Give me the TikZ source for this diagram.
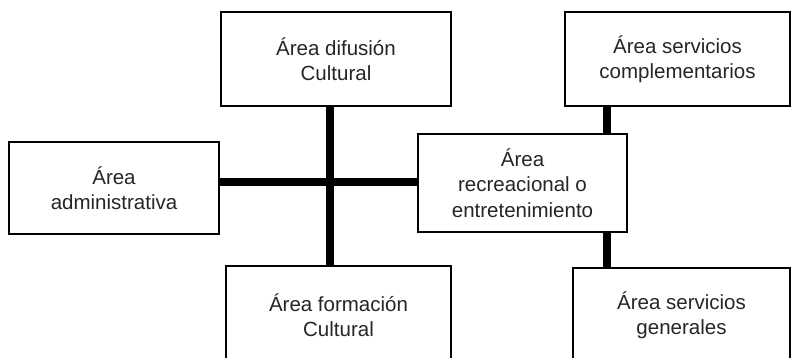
\documentclass[tikz,border=0pt]{standalone}
\usepackage{fontspec}
\setmainfont{Liberation Sans}
\usepackage{tikz}

\begin{document}
\begin{tikzpicture}[x=1pt,y=-1pt,
		area/.style={draw,line width=2.2pt,fill=white,align=center,inner sep=0pt,
			text=black!85,font=\fontsize{20.5}{25.5}\selectfont},
		link/.style={line width=8pt}]
	\useasboundingbox (0,0) rectangle (792,358);
	\node[area,minimum width=230,minimum height=94] (dif) at (336,59) {Área difusión\\Cultural};
	\node[area,minimum width=225,minimum height=94] (comp) at (677.5,59) {Área servicios\\complementarios};
	\node[area,minimum width=210,minimum height=92] (adm) at (114,188) {Área\\administrativa};
	\node[area,minimum width=209,minimum height=98] (rec) at (522.5,183) {Área\\recreacional o\\entretenimiento};
	\node[area,minimum width=225,minimum height=98] (form) at (338.5,315) {Área formación\\Cultural};
	\node[area,minimum width=217,minimum height=94] (gen) at (681.5,315) {Área servicios\\generales};
	% ejes de union
	\coordinate (vx) at (330,0);
	\coordinate (rx) at (607,0);
	\coordinate (hy) at (0,182);
	\draw[link] (dif.south -| vx) -- (form.north -| vx);
	\draw[link] (adm.east |- hy) -- (rec.west |- hy);
	\draw[link] (comp.south -| rx) -- (rec.north -| rx);
	\draw[link] (rec.south -| rx) -- (gen.north -| rx);
\end{tikzpicture}
\end{document}
